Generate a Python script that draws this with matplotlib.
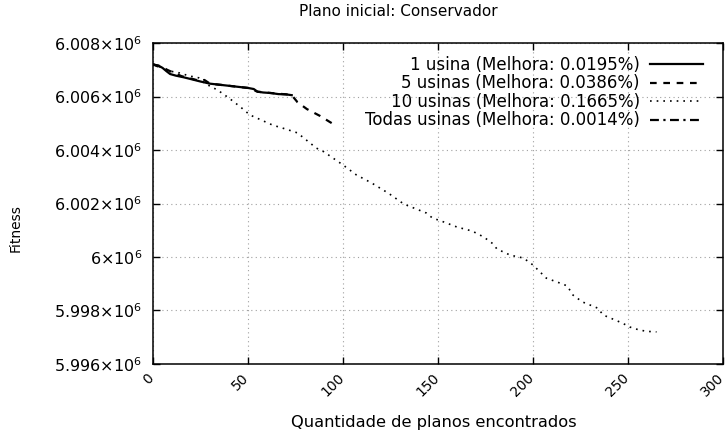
import matplotlib
matplotlib.use("Agg")
import matplotlib.pyplot as plt
from matplotlib.transforms import ScaledTranslation

# dados (fitness em unidades absolutas)
x_1usina = [0, 1, 3, 5, 7, 9, 12, 16, 20, 25, 30, 35, 40, 45, 50, 53, 55, 58, 62, 66, 70, 73]
y_1usina = [6007200, 6007180, 6007150, 6007070, 6006950, 6006840, 6006780, 6006720, 6006650, 6006560,
            6006480, 6006440, 6006400, 6006360, 6006320, 6006280, 6006180, 6006150, 6006130, 6006090,
            6006080, 6006050]

x_5usinas = [0, 3, 8, 15, 25, 27, 30, 40, 50, 55, 62, 70, 73, 76, 81, 88, 93, 97]
y_5usinas = [6007200, 6007150, 6006980, 6006760, 6006580, 6006620, 6006480, 6006400, 6006320, 6006180,
             6006130, 6006080, 6006050, 6005790, 6005530, 6005270, 6005050, 6004880]

x_10usinas = [0, 1, 9, 14, 19, 24, 27, 34, 40, 46, 51, 57, 63, 70, 76, 86, 90, 100, 107, 115, 124, 132,
              144, 147, 153, 160, 168, 174, 179, 181, 188, 195, 200, 207, 214, 218, 221, 226, 234, 237,
              247, 251, 256, 260, 265]
y_10usinas = [6007200, 6007180, 6006950, 6006880, 6006770, 6006700, 6006500, 6006240, 6005940, 6005610,
              6005310, 6005120, 6004930, 6004780, 6004640, 6004070, 6003930, 6003440, 6003070, 6002770,
              6002380, 6001980, 6001640, 6001460, 6001310, 6001120, 6000970, 6000750, 6000490, 6000300,
              6000070, 5999960, 5999700, 5999210, 5999030, 5998920, 5998580, 5998320, 5998090, 5997830,
              5997530, 5997380, 5997270, 5997220, 5997200]

x_todas = [0, 1, 2, 3]
y_todas = [6007200, 6007170, 6007140, 6007116]

legendas = ["1 usina (Melhora: 0.0195%)", "5 usinas (Melhora: 0.0386%)",
            "10 usinas (Melhora: 0.1665%)", "Todas usinas (Melhora: 0.0014%)"]

yticks = [5996000, 5998000, 6000000, 6002000, 6004000, 6006000, 6008000]
ytick_labels = [r"5.996$\times$10$^{6}$", r"5.998$\times$10$^{6}$", r"6$\times$10$^{6}$",
                r"6.002$\times$10$^{6}$", r"6.004$\times$10$^{6}$", r"6.006$\times$10$^{6}$",
                r"6.008$\times$10$^{6}$"]
xticks = [0, 50, 100, 150, 200, 250, 300]

fig = plt.figure(figsize=(7.27, 4.34), dpi=100)
ax = fig.add_axes([0.2105, 0.1613, 0.784, 0.7396])

ax.plot(x_1usina, y_1usina, color="black", linestyle="-", linewidth=1.6, label=legendas[0])
ax.plot(x_5usinas, y_5usinas, color="black", linestyle=(0, (3, 3)), linewidth=1.6, label=legendas[1])
ax.plot(x_10usinas, y_10usinas, color="black", linestyle=(0, (1, 3)), linewidth=1.2, label=legendas[2])
ax.plot(x_todas, y_todas, color="black", linestyle=(0, (4, 2, 1, 2)), linewidth=1.6, label=legendas[3])

ax.set_xlim(0, 300)
ax.set_ylim(5996000, 6008000)
ax.set_xticks(xticks)
ax.set_yticks(yticks)
ax.set_yticklabels(ytick_labels, fontsize=11.5)
ax.tick_params(direction="in", top=True, right=True, length=5, width=1)
ax.tick_params(axis="y", pad=8)
ax.set_xticklabels([str(t) for t in xticks], rotation=45, ha="right", va="top",
                   rotation_mode="anchor", fontsize=10)
# desloca um pouco os rotulos do eixo x para a esquerda (depois do tick_params)
for lbl in ax.get_xticklabels():
    lbl.set_transform(lbl.get_transform() + ScaledTranslation(-6 / 100, -2 / 100, fig.dpi_scale_trans))
ax.grid(True, color="#a0a0a0", linestyle=(0, (1, 3)), linewidth=0.8)
for s in ax.spines.values():
    s.set_linewidth(1.1)

fig.text(398 / 727, 1 - 12 / 434, "Plano inicial: Conservador", fontsize=11, ha="center", va="center")
fig.text(434 / 727, 1 - 423 / 434, "Quantidade de planos encontrados", fontsize=11.7,
         ha="center", va="center")
fig.text(16 / 727, 1 - 228 / 434, "Fitness", fontsize=10, rotation=90, ha="center", va="center")

ax.legend(loc="upper right", bbox_to_anchor=(0.965, 0.96), frameon=False, markerfirst=False,
          fontsize=12, handlelength=3.2, handletextpad=0.6, labelspacing=0.03,
          borderpad=0, borderaxespad=0)
for t in ax.get_legend().get_texts():
    t.set_ha("right")

fig.savefig("out.png", dpi=100)
